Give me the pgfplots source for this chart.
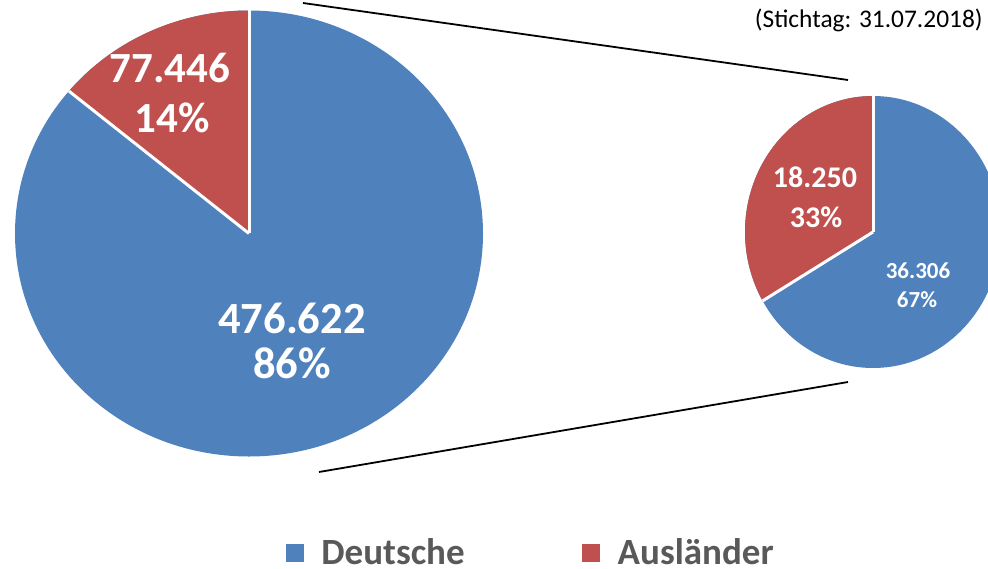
\documentclass[border=0pt]{standalone}
\usepackage{pgfplots}
\pgfplotsset{compat=1.18}
\usepackage{fontspec}
\setmainfont{Carlito}
\definecolor{cBlue}{HTML}{4F81BD}
\definecolor{cRed}{HTML}{C0504D}
\definecolor{cGray}{HTML}{595959}
\begin{document}
\begin{tikzpicture}
% values in thousands
\pgfmathsetmacro{\DeA}{476.622}\pgfmathsetmacro{\AuA}{77.446}
\pgfmathsetmacro{\DeB}{36.306}\pgfmathsetmacro{\AuB}{18.250}
\pgfmathsetmacro{\angA}{90+360*(\AuA/(\AuA+\DeA))}
\pgfmathsetmacro{\angB}{90+360*(\AuB/(\AuB+\DeB))}
\begin{axis}[x=0.5pt,y=0.5pt,xmin=0,xmax=988,ymin=0,ymax=568,
  hide axis, clip=true,
  legend columns=2,
  legend style={at={(axis cs:532,15)},anchor=center,draw=none,fill=none,
    font=\bfseries\fontsize{18.5}{20}\selectfont,text=cGray,
    /tikz/every odd column/.append style={column sep=7pt},
    /tikz/every even column/.append style={column sep=57pt}},
  ]
\addlegendimage{only marks,mark=square*,mark size=4.25pt,color=cBlue}
\addlegendentry{Deutsche}
\addlegendimage{only marks,mark=square*,mark size=4.25pt,color=cRed}
\addlegendentry{Ausländer}
% connector lines
\draw[black,line width=0.9pt] (axis cs:303,565) -- (axis cs:848,488);
\draw[black,line width=0.9pt] (axis cs:319,96) -- (axis cs:848,186);
% left pie
\fill[cBlue] (axis cs:249,334.5) ellipse [x radius=117pt, y radius=111.5pt];
\fill[cRed] (axis cs:249,334.5) -- ++(90:117pt and 111.5pt)
  arc[start angle=90,end angle=\angA,x radius=117pt,y radius=111.5pt] -- cycle;
\draw[white,line width=1.5pt] (axis cs:249,334.5) -- ++(90:117pt and 111.5pt);
\draw[white,line width=1.5pt] (axis cs:249,334.5) -- ++(\angA:117pt and 111.5pt);
% right pie
\fill[cBlue] (axis cs:873,336) ellipse [x radius=64pt, y radius=68pt];
\fill[cRed] (axis cs:873,336) -- ++(90:64pt and 68pt)
  arc[start angle=90,end angle=\angB,x radius=64pt,y radius=68pt] -- cycle;
\draw[white,line width=1.5pt] (axis cs:873,336) -- ++(90:64pt and 68pt);
\draw[white,line width=1.5pt] (axis cs:873,336) -- ++(\angB:64pt and 68pt);
% labels
\node[anchor=base,white,font=\bfseries\fontsize{21.5}{24}\selectfont] at (axis cs:170,485) {77.446};
\node[anchor=base,white,font=\bfseries\fontsize{21.5}{24}\selectfont] at (axis cs:172,435) {14\%};
\node[anchor=base,white,font=\bfseries\fontsize{22.3}{24}\selectfont] at (axis cs:292,235) {476.622};
\node[anchor=base,white,font=\bfseries\fontsize{22.3}{24}\selectfont] at (axis cs:292,190) {86\%};
\node[anchor=base,white,font=\bfseries\fontsize{15}{18}\selectfont] at (axis cs:815,380) {18.250};
\node[anchor=base,white,font=\bfseries\fontsize{15}{18}\selectfont] at (axis cs:816,341) {33\%};
\node[anchor=base,white,font=\bfseries\fontsize{11.5}{14}\selectfont] at (axis cs:918,290) {36.306};
\node[anchor=base,white,font=\bfseries\fontsize{11.5}{14}\selectfont] at (axis cs:917,261) {67\%};
% subtitle
\node[anchor=base east,black,font=\fontsize{12.7}{15}\selectfont,inner sep=0pt] at (axis cs:983,540) {(Stichtag: 31.07.2018)};
\end{axis}
\pgfresetboundingbox
\path[use as bounding box] (current axis.south west) rectangle (current axis.north east);
\end{tikzpicture}
\end{document}
